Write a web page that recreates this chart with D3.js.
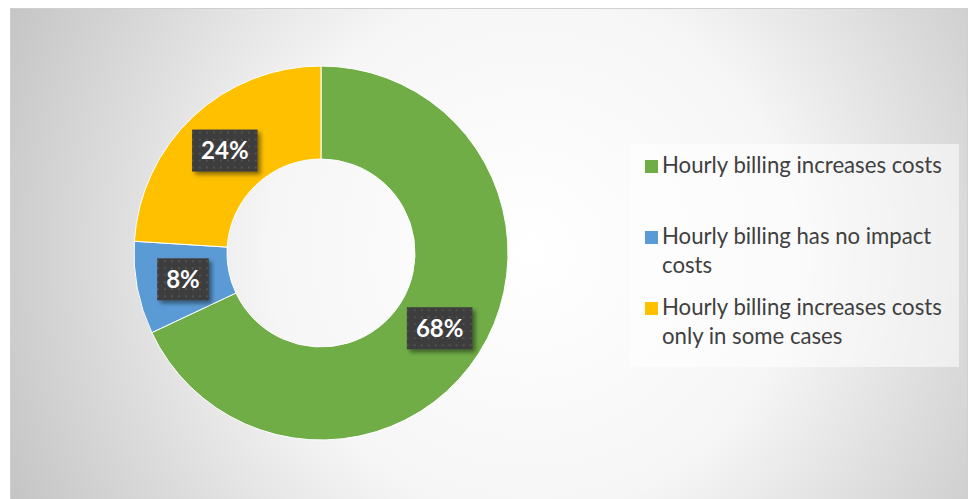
<!DOCTYPE html>
<html>
<head>
<meta charset="utf-8">
<script src="https://cdn.jsdelivr.net/npm/d3@7"></script>
<style>
  html, body { margin: 0; padding: 0; background: #ffffff; }
  svg { display: block; }
</style>
</head>
<body>
<div id="chart"></div>
<script>
// data
var categories = ["Hourly billing increases costs",
                  "Hourly billing has no impact costs",
                  "Hourly billing increases costs only in some cases"];
var shares = [68, 8, 24];
var colors = ["#70ad47", "#5b9bd5", "#ffc000"];

var width = 969, height = 499;

var svg = d3.select("#chart").append("svg")
    .attr("width", width)
    .attr("height", height);

var defs = svg.append("defs");

// background radial gradient (white centre, grey corners)
var grad = defs.append("radialGradient")
    .attr("id", "bg")
    .attr("gradientUnits", "userSpaceOnUse")
    .attr("cx", 530).attr("cy", 250).attr("r", 580);
grad.append("stop").attr("offset", 0).attr("stop-color", "#ffffff");
grad.append("stop").attr("offset", 0.45).attr("stop-color", "#f6f6f6");
grad.append("stop").attr("offset", 0.72).attr("stop-color", "#dddddd");
grad.append("stop").attr("offset", 1).attr("stop-color", "#c4c4c4");

// dotted dark fill for the data labels
var pat = defs.append("pattern")
    .attr("id", "dots")
    .attr("patternUnits", "userSpaceOnUse")
    .attr("width", 7).attr("height", 7);
pat.append("rect").attr("width", 7).attr("height", 7).attr("fill", "#3c3c3c");
pat.append("rect").attr("x", 2).attr("y", 2).attr("width", 2).attr("height", 2).attr("fill", "#525252");

var shadow = defs.append("filter").attr("id", "shadow")
    .attr("x", "-20%").attr("y", "-20%").attr("width", "150%").attr("height", "150%");
shadow.append("feDropShadow")
    .attr("dx", 3).attr("dy", 3).attr("stdDeviation", 2)
    .attr("flood-color", "#000").attr("flood-opacity", 0.45);

// chart area
svg.append("rect")
    .attr("x", 10.5).attr("y", 8.5)
    .attr("width", 957).attr("height", 491)
    .attr("fill", "url(#bg)")
    .attr("stroke", "#d0d0d0");

// doughnut
var cx = 321, cy = 253, outerR = 187, innerR = 94;

var pie = d3.pie().sort(null).value(function(d) { return d; });
var arcs = pie(shares);
var arc = d3.arc().innerRadius(innerR).outerRadius(outerR);
var labelArc = d3.arc().innerRadius((innerR + outerR) / 2).outerRadius((innerR + outerR) / 2);

var g = svg.append("g").attr("transform", "translate(" + cx + "," + cy + ")");

g.selectAll("path.slice")
    .data(arcs)
    .enter()
    .append("path")
        .attr("class", "slice")
        .attr("d", arc)
        .attr("fill", function(d, i) { return colors[i]; })
        .attr("stroke", "#ffffff")
        .attr("stroke-width", 1);

// data labels
var labels = g.selectAll("g.lbl")
    .data(arcs)
    .enter()
    .append("g")
        .attr("class", "lbl")
        .attr("transform", function(d) { return "translate(" + labelArc.centroid(d) + ")"; });

labels.each(function(d) {
    var lg = d3.select(this);
    var box = lg.append("rect").attr("fill", "url(#dots)").attr("filter", "url(#shadow)");
    var t = lg.append("text")
        .attr("text-anchor", "middle")
        .attr("dy", "0.36em")
        .attr("fill", "#ffffff")
        .style("font-family", "Lato, 'Open Sans', sans-serif")
        .style("font-weight", "bold")
        .style("font-size", "24px")
        .text(d.data + "%");
    var w = t.node().getComputedTextLength() + 18;
    box.attr("x", -w / 2).attr("y", -21).attr("width", w).attr("height", 42);
});

// legend
var legend = svg.append("g");
legend.append("rect")
    .attr("x", 630).attr("y", 144)
    .attr("width", 329).attr("height", 223)
    .attr("fill", "#ffffff")
    .attr("fill-opacity", 0.55);

var legendY = d3.scalePoint().domain(categories).range([173, 315]);
var maxW = 285;

// font size chosen so the first entry is as wide as in the picture
var probe = legend.append("text")
    .style("font-family", "Lato, 'Open Sans', sans-serif")
    .style("font-size", "20px")
    .text(categories[0]);
var fs = 20 * 280 / probe.node().getComputedTextLength();
probe.remove();

categories.forEach(function(c, i) {
    var y = legendY(c);
    legend.append("rect")
        .attr("x", 645).attr("y", y - 13)
        .attr("width", 13).attr("height", 13)
        .attr("fill", colors[i]);
    var t = legend.append("text")
        .attr("x", 662).attr("y", y)
        .attr("fill", "#404040")
        .style("font-family", "Lato, 'Open Sans', sans-serif")
        .style("font-size", fs + "px");
    // wrap words
    var words = c.split(" "), line = [], lineNo = 0;
    var ts = t.append("tspan").attr("x", 662).attr("y", y);
    words.forEach(function(w) {
        line.push(w);
        ts.text(line.join(" "));
        if (ts.node().getComputedTextLength() > maxW && line.length > 1) {
            line.pop();
            ts.text(line.join(" "));
            line = [w];
            lineNo++;
            ts = t.append("tspan").attr("x", 662).attr("y", y + lineNo * 29).text(w);
        }
    });
});
</script>
</body>
</html>
